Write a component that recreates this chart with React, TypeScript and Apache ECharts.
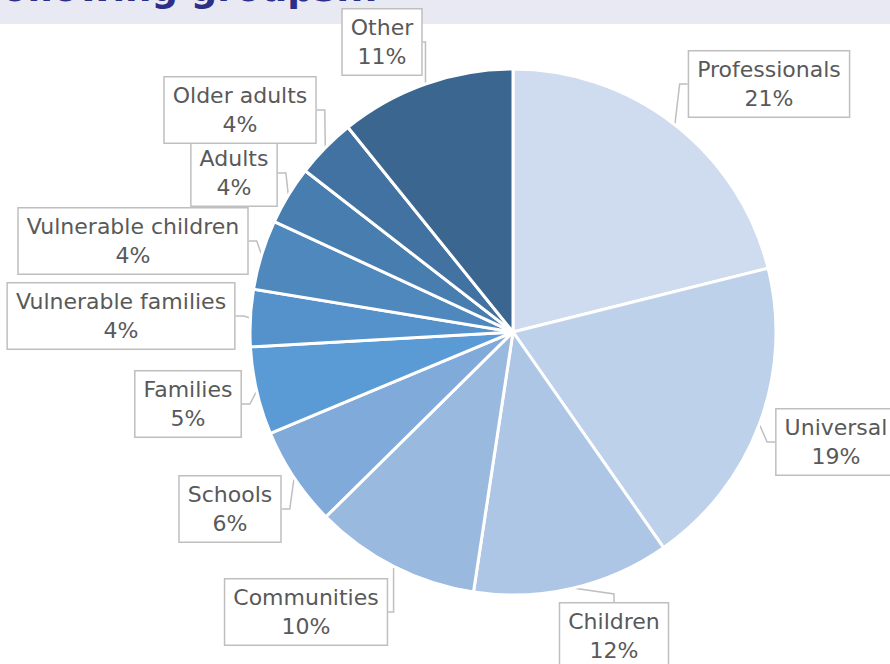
import React, { useEffect, useRef } from "react";
import * as echarts from "echarts";

const categories = [
  "Professionals",
  "Universal",
  "Children",
  "Communities",
  "Schools",
  "Families",
  "Vulnerable families",
  "Vulnerable children",
  "Adults",
  "Older adults",
  "Other",
];
const values = [21.1, 19.2, 12.1, 10.2, 6.1, 5.4, 3.5, 4.3, 3.6, 3.7, 10.8];
const colors = [
  "#CFDCEF",
  "#BDD1EA",
  "#AEC6E5",
  "#9AB9DF",
  "#7FAAD9",
  "#5B9BD5",
  "#5592CB",
  "#4E88BD",
  "#487DB0",
  "#4272A1",
  "#3B668F",
];
// label box centres (layout only)
const labelCenters: [number, number][] = [
  [769, 84],
  [836, 442],
  [614, 636],
  [306, 612],
  [230, 509],
  [188, 404],
  [121, 316],
  [133, 241],
  [234, 173],
  [240, 110],
  [382, 42],
];
const titleText = "following groups...";

export default function App() {
  const ref = useRef<HTMLDivElement>(null);
  useEffect(() => {
    document.body.style.margin = "0";
    const chart = echarts.init(ref.current!, null, { renderer: "svg" });
    chart.setOption({
      animation: false,
      backgroundColor: "#ffffff",
      graphic: [
        {
          type: "rect",
          z: 0,
          shape: { x: 0, y: 0, width: 890, height: 24 },
          style: { fill: "#E9E9F4" },
        },
        {
          type: "text",
          z: 1,
          x: 378,
          y: -12,
          style: {
            text: titleText,
            fill: "#2D2F86",
            font: "bold 37px 'DejaVu Sans'",
            align: "right",
            verticalAlign: "middle",
          },
        },
      ],
      series: [
        {
          type: "pie",
          center: [513, 332],
          radius: 263,
          startAngle: 90,
          clockwise: true,
          avoidLabelOverlap: false,
          itemStyle: { borderColor: "#ffffff", borderWidth: 3 },
          label: {
            show: true,
            formatter: (p: any) => `${p.name}\n${Math.round(p.value)}%`,
            fontFamily: "'DejaVu Sans'",
            fontSize: 22,
            lineHeight: 29,
            color: "#595959",
            align: "center",
            backgroundColor: "#ffffff",
            borderColor: "#BFBFBF",
            borderWidth: 1.5,
            padding: [4, 8, 3, 8],
          },
          labelLine: {
            show: true,
            length: 8,
            length2: 8,
            smooth: false,
            lineStyle: { color: "#BFBFBF", width: 1.5 },
          },
          labelLayout: (params: any) => {
            const c = labelCenters[params.dataIndex];
            return { x: c[0], y: c[1], align: "center", verticalAlign: "middle" };
          },
          emphasis: { disabled: true },
          data: categories.map((name, i) => ({
            name,
            value: values[i],
            itemStyle: { color: colors[i] },
          })),
        },
      ],
    });
    return () => chart.dispose();
  }, []);
  return (
    <div
      ref={ref}
      style={{ position: "fixed", left: 0, top: 0, width: 890, height: 664 }}
    />
  );
}
